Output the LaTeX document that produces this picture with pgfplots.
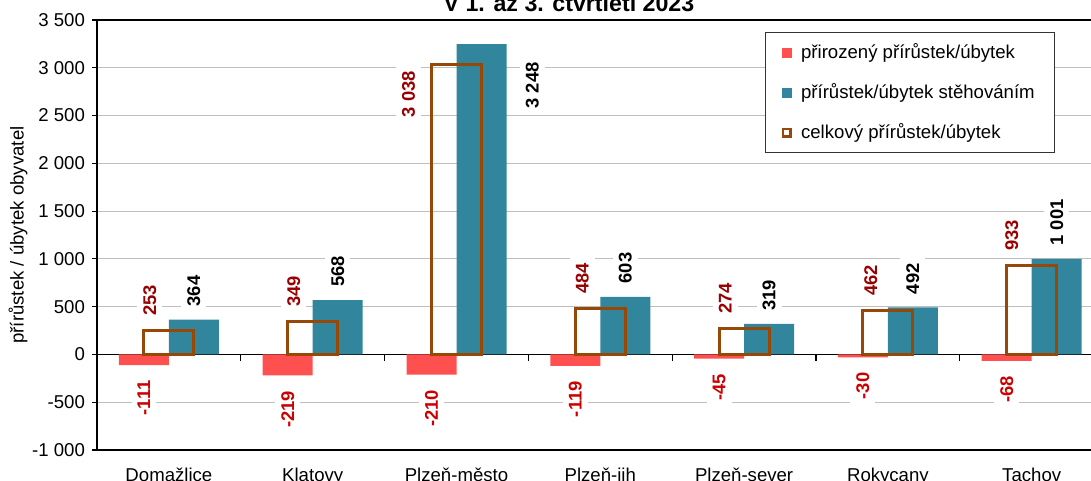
\documentclass[border=0pt]{standalone}
\usepackage{fontspec}
\setmainfont{Liberation Sans}
\usepackage{pgfplots}
\usepackage{pgfplotstable}
\pgfplotsset{compat=1.18}
\definecolor{cred}{HTML}{FF5050}
\definecolor{cteal}{HTML}{31859C}
\definecolor{cbrown}{HTML}{974706}
\definecolor{lred}{HTML}{CC0000}
\definecolor{lbrown}{HTML}{990000}

\pgfplotstableread{
x y dx dy
0 -111 0 0
1 -219 0 0
2 -210 0 0
3 -119 0 0
4 -45 0 0
5 -30 0 0
6 -68 0 0
}\natural
\pgfplotstableread{
x y dx dy
0 364 0 0
1 568 0 0
2 3248 25.4 -38.9
3 603 0 0
4 319 0 0
5 492 0 0
6 1001 0 0
}\migration
\pgfplotstableread{
x y dx dy
0 253 -9.5 0
1 349 -9.5 0
2 3038 -24 -33.8
3 484 -9 0
4 274 -9.5 0
5 462 -8.5 0
6 933 -10 0
}\total

\begin{document}
\begin{tikzpicture}
\begin{axis}[
  at={(0,0)}, anchor=south west, scale only axis,
  width=503.3pt, height=215pt,
  xmin=-0.5, xmax=6.5, ymin=-1000, ymax=3500,
  ytick={-1000,-500,...,3500},
  xtick={0,...,6},
  xticklabels={Domažlice,Klatovy,Plzeň-město,Plzeň-jih,Plzeň-sever,Rokycany,Tachov},
  x tick style={draw=none},
  xticklabel style={yshift=-3pt},
  tick align=outside, major tick length=2.5pt,
  y tick style={black, line width=0.6pt},
  ymajorgrids, grid style={color=black!25, line width=0.6pt},
  axis line style={line width=0.8pt},
  tick label style={font=\fontsize{9.3}{11}\selectfont},
  /pgf/number format/1000 sep={\ },
  /pgf/number format/assume math mode=true,
  ylabel={přírůstek / úbytek obyvatel},
  ylabel style={at={(axis description cs:-0.0785,0.5)}, anchor=center, font=\fontsize{9.3}{11}\selectfont},
  legend style={at={(0.6636,0.972)}, anchor=north west, draw=black!80, line width=0.6pt,
    font=\fontsize{9.3}{11}\selectfont, row sep=7pt, inner xsep=8pt, inner ysep=3.5pt},
  legend cell align=left,
  bar width=25pt,
  visualization depends on={\thisrow{dx} \as \dx},
  visualization depends on={\thisrow{dy} \as \dy},
]
\draw[black, line width=0.8pt] (axis cs:-0.5,0) -- (axis cs:6.5,0);
\draw[black, line width=0.6pt] (axis cs:0.5,0) -- ([yshift=-3.5pt]axis cs:0.5,0);
\draw[black, line width=0.6pt] (axis cs:1.5,0) -- ([yshift=-3.5pt]axis cs:1.5,0);
\draw[black, line width=0.6pt] (axis cs:2.5,0) -- ([yshift=-3.5pt]axis cs:2.5,0);
\draw[black, line width=0.6pt] (axis cs:3.5,0) -- ([yshift=-3.5pt]axis cs:3.5,0);
\draw[black, line width=0.6pt] (axis cs:4.5,0) -- ([yshift=-3.5pt]axis cs:4.5,0);
\draw[black, line width=0.6pt] (axis cs:5.5,0) -- ([yshift=-3.5pt]axis cs:5.5,0);

\addplot[ybar, bar shift=-12.5pt, fill=cred, draw=none,
  legend image code/.code={\fill[cred] (0pt,-2.5pt) rectangle (5pt,2.5pt); \path (7pt,0);},
  nodes near coords, point meta=y,
  every node near coord/.append style={font=\bfseries\fontsize{9.2}{11}\selectfont, text=lred,
    fill=white, inner sep=3pt, xshift=\dx pt-12.5pt, yshift=\dy pt-4.5pt, rotate=90, anchor=east}]
  table[x=x,y=y] {\natural};
\addlegendentry{přirozený přírůstek/úbytek}
\addplot[ybar, bar shift=12.5pt, fill=cteal, draw=none,
  legend image code/.code={\fill[cteal] (0pt,-2.5pt) rectangle (5pt,2.5pt); \path (7pt,0);},
  nodes near coords, point meta=y,
  every node near coord/.append style={font=\bfseries\fontsize{9.2}{11}\selectfont, text=black,
    fill=white, inner sep=3pt, xshift=\dx pt+12.5pt, yshift=\dy pt+3.5pt, rotate=90, anchor=west}]
  table[x=x,y=y] {\migration};
\addlegendentry{přírůstek/úbytek stěhováním}
\addplot[ybar, bar shift=0pt, fill=none, draw=cbrown, line width=1.5pt,
  legend image code/.code={\draw[cbrown, line width=1.2pt] (0.6pt,-1.9pt) rectangle (4.4pt,1.9pt); \path (7pt,0);},
  nodes near coords, point meta=y,
  every node near coord/.append style={font=\bfseries\fontsize{9.2}{11}\selectfont, text=lbrown,
    fill=white, inner sep=3pt, xshift=\dx pt, yshift=\dy pt+3.5pt, rotate=90, anchor=west}]
  table[x=x,y=y] {\total};
\addlegendentry{celkový přírůstek/úbytek}
\end{axis}
\node[font=\bfseries\fontsize{11.6}{13}\selectfont, anchor=base] at (236pt,219pt) {V 1. až 3. čtvrtletí 2023};
\pgfresetboundingbox
\path[use as bounding box] (-48.5pt,-15.5pt) rectangle (497pt,225pt);
\end{tikzpicture}
\end{document}
